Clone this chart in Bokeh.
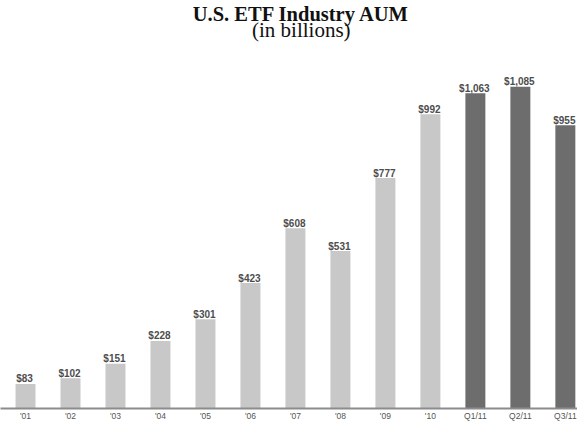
from bokeh.plotting import figure
from bokeh.models import ColumnDataSource, Range1d, FixedTicker, Label
from bokeh.core.properties import value
from bokeh.embed import file_html
from bokeh.resources import INLINE

categories = ["'01", "'02", "'03", "'04", "'05", "'06", "'07", "'08", "'09", "'10", "Q1/11", "Q2/11", "Q3/11"]
aum = [83, 102, 151, 228, 301, 423, 608, 531, 777, 992, 1063, 1085, 955]
value_labels = ["$83", "$102", "$151", "$228", "$301", "$423", "$608", "$531", "$777", "$992", "$1,063", "$1,085", "$955"]
is_quarter = [False] * 10 + [True] * 3

title_text = "U.S. ETF Industry AUM"
subtitle_text = "(in billions)"

LIGHT = "#c8c8c8"
DARK = "#6d6d6d"

idx = list(range(len(categories)))
src = ColumnDataSource(dict(
    x=idx,
    top=aum,
    label=value_labels,
    color=[DARK if q else LIGHT for q in is_quarter],
))

W, H = 577, 423
p = figure(width=W, height=H, output_backend="svg", toolbar_location=None,
           x_range=Range1d(-0.556, 12.27), y_range=Range1d(0, 1376),
           min_border_left=0, min_border_right=0, min_border_top=0,
           min_border_bottom=13)
p.title = None
p.outline_line_color = None
p.background_fill_color = "white"
p.border_fill_color = "white"
p.grid.visible = False
p.yaxis.visible = False

p.vbar(x="x", top="top", width=0.444, bottom=0, color="color", line_color=None, source=src)
p.text(x="x", y="top", text="label", source=src, text_align="center",
       text_baseline="alphabetic", y_offset=-5, x_offset=-1,
       text_font=value("Liberation Sans"), text_font_size="10px",
       text_font_style="bold", text_color="#4d4d4d")

ax = p.xaxis[0]
ax.ticker = FixedTicker(ticks=idx)
ax.major_label_overrides = {i: c for i, c in zip(idx, categories)}
ax.axis_line_color = "#8c8c8c"
ax.axis_line_width = 2
ax.major_tick_line_color = None
ax.minor_tick_line_color = None
ax.major_tick_out = 0
ax.major_tick_in = 0
ax.major_label_standoff = 2
ax.major_label_text_font = "Liberation Sans"
ax.major_label_text_font_size = "8.5px"
ax.major_label_text_color = "#555555"

mid = len(categories) // 2 + 0.13
p.add_layout(Label(x=mid, y=1329, text=title_text, text_align="center",
                   text_baseline="alphabetic", text_font="Liberation Serif",
                   text_font_size="20.5px", text_font_style="bold", text_color="#111111"))
p.add_layout(Label(x=mid, y=1278, text=subtitle_text, text_align="center",
                   text_baseline="alphabetic", text_font="Liberation Serif",
                   text_font_size="21px", text_color="#111111"))

open("out.html", "w").write(file_html(p, INLINE))
